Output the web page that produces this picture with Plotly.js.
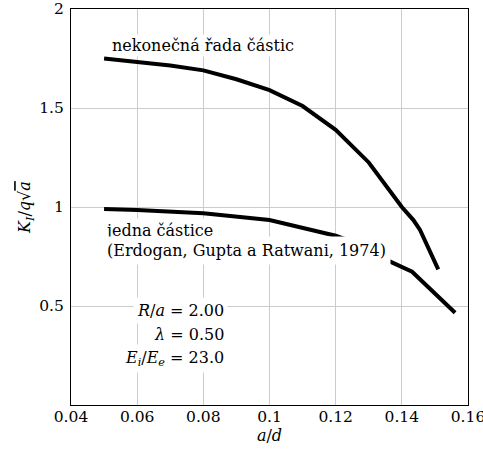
<!DOCTYPE html>
<html>
<head>
<meta charset="utf-8">
<script src="https://cdn.plot.ly/plotly-3.0.1.min.js"></script>
<style>html,body{margin:0;padding:0;background:#fff;}</style>
</head>
<body>
<div id="chart" style="width:483px;height:452px;"></div>
<script>
// Infinite row of particles (nekonečná řada částic)
const rowX = [0.05, 0.06, 0.07, 0.08, 0.09, 0.10, 0.11, 0.12, 0.13, 0.14, 0.1435, 0.1455, 0.151];
const rowY = [1.75, 1.735, 1.715, 1.69, 1.645, 1.59, 1.51, 1.39, 1.225, 1.0, 0.934, 0.884, 0.685];
// Single particle (jedna částice, Erdogan, Gupta a Ratwani 1974)
const singleX = [0.05, 0.06, 0.08, 0.10, 0.12, 0.13, 0.1365, 0.1431, 0.1561];
const singleY = [0.99, 0.985, 0.968, 0.934, 0.855, 0.795, 0.724, 0.673, 0.466];

const xTicks = [0.04, 0.06, 0.08, 0.10, 0.12, 0.14, 0.16];
const xTickText = ["0.04", "0.06", "0.08", "0.1", "0.12", "0.14", "0.16"];
const yTicks = [0.5, 1, 1.5, 2];
const yTickText = ["0.5", "1", "1.5", "2"];

const labelRow = "nekonečná řada částic";
const labelSingle1 = "jedna částice";
const labelSingle2 = "(Erdogan, Gupta a Ratwani, 1974)";
const params = ["<i>R</i>/<i>a</i> = 2.00", "<i>λ</i> = 0.50", "<i>E<sub>i</sub></i>/<i>E<sub>e</sub></i> = 23.0"];

const F = "DejaVu Serif";
const FS = 16;
const FT = 15.5;

const traces = [
  {x: rowX, y: rowY, mode: "lines", line: {color: "#000", width: 4}, hoverinfo: "skip"},
  {x: singleX, y: singleY, mode: "lines", line: {color: "#000", width: 4}, hoverinfo: "skip"}
];

const ann = (text, x, y, xanchor, pad) => ({
  text: text, x: x, y: y, xref: "x", yref: "y", xanchor: xanchor, yanchor: "middle",
  showarrow: false, bgcolor: "#fff", borderpad: pad, font: {family: F, size: FS, color: "#000"}
});

const layout = {
  width: 483, height: 452,
  margin: {l: 71, r: 15, t: 9, b: 47},
  paper_bgcolor: "#fff", plot_bgcolor: "#fff",
  showlegend: false,
  font: {family: F, size: FT, color: "#000"},
  xaxis: {
    range: [0.04, 0.16], tickvals: xTicks, ticktext: xTickText,
    showgrid: true, gridcolor: "#cccccc", gridwidth: 1,
    showline: true, linecolor: "#000", linewidth: 1, mirror: true,
    ticks: "", zeroline: false, ticklabelstandoff: -3, ticklabeloverflow: "allow",
    tickfont: {family: F, size: FT},
    title: {text: "<i>a</i>/<i>d</i>", font: {family: F, size: FS}, standoff: 4}
  },
  yaxis: {
    range: [0, 2], tickvals: yTicks, ticktext: yTickText,
    showgrid: true, gridcolor: "#cccccc", gridwidth: 1,
    showline: true, linecolor: "#000", linewidth: 1, mirror: true,
    ticks: "", zeroline: false, ticklabelstandoff: 3,
    tickfont: {family: F, size: FT},
    title: {text: "<i>K<sub>I</sub></i>/<i>q</i>√<i><span style=\"text-decoration:overline\">a</span></i>", font: {family: F, size: FS}, standoff: 4}
  },
  annotations: [
    ann(labelRow, 0.0519, 1.818, "left", 1),
    ann(labelSingle1, 0.0493, 0.882, "left", 2),
    ann(labelSingle2, 0.0493, 0.781, "left", 4),
    ann(params[0], 0.0875, 0.475, "right", 3),
    ann(params[1], 0.0875, 0.354, "right", 3),
    ann(params[2], 0.0875, 0.236, "right", 3)
  ]
};

Plotly.newPlot("chart", traces, layout, {displayModeBar: false, staticPlot: true});
</script>
</body>
</html>
